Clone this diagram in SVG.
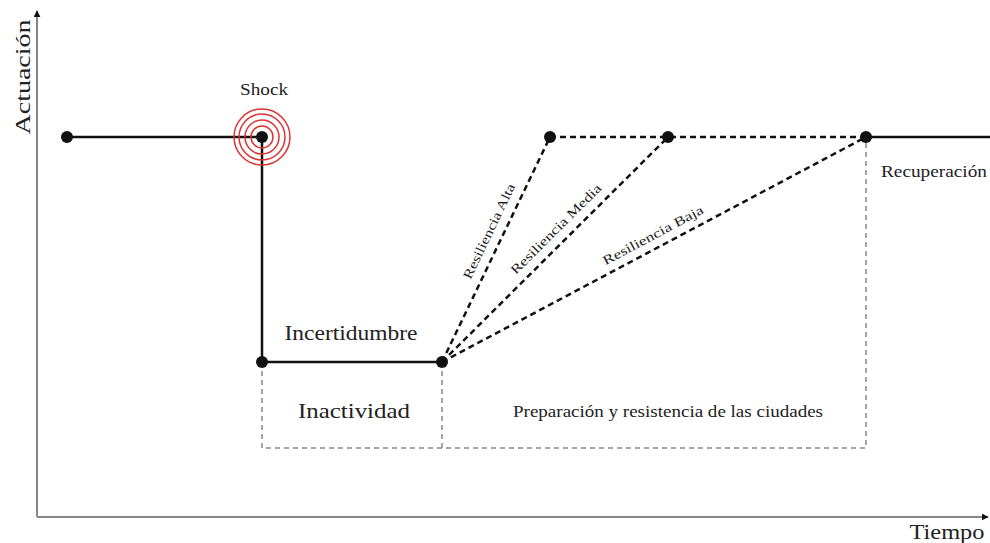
<svg xmlns="http://www.w3.org/2000/svg" width="990" height="543" viewBox="0 0 990 543">
<defs>
<style>
.t{font-family:"Liberation Serif","Times New Roman",serif;fill:#222}
.solid{stroke:#111;stroke-width:2.5;fill:none}
.dash{stroke:#111;stroke-width:2.5;stroke-dasharray:6,4;fill:none}
.gdash{stroke:#888;stroke-width:1.5;stroke-dasharray:5,4;fill:none}
.axis{stroke:#888;stroke-width:2;fill:none}
.dot{fill:#111}
.ring{stroke:#d33;stroke-width:1.5;fill:none}
</style>
<marker id="arr" viewBox="0 0 10 10" refX="9" refY="5" markerWidth="7" markerHeight="7" orient="auto" markerUnits="userSpaceOnUse">
<path d="M0,0 L10,5 L0,10 z" fill="#111"/>
</marker>
</defs>
<rect width="990" height="543" fill="#fff"/>
<g id="axes">
<line class="axis" x1="37" y1="517" x2="37" y2="11" marker-end="url(#arr)"/>
<line class="axis" x1="37" y1="517" x2="988" y2="517" marker-end="url(#arr)"/>
<text class="t" font-size="21" transform="translate(30,77) rotate(-90)" text-anchor="middle" textLength="115" lengthAdjust="spacingAndGlyphs">Actuación</text>
<text class="t" font-size="21" x="947" y="539" text-anchor="middle" textLength="75" lengthAdjust="spacingAndGlyphs">Tiempo</text>
</g>
<g id="connectors">
<polyline class="solid" points="67,137 262,137 262,362 442,362"/>
<line class="solid" x1="866" y1="137" x2="990" y2="137"/>
<line class="dash" x1="442" y1="362" x2="550" y2="137"/>
<line class="dash" x1="442" y1="362" x2="668" y2="137"/>
<line class="dash" x1="442" y1="362" x2="866" y2="137"/>
<line class="dash" x1="550" y1="137" x2="866" y2="137"/>
<polyline class="gdash" points="262,362 262,448 866,448 866,137"/>
<line class="gdash" x1="442" y1="362" x2="442" y2="448"/>
</g>
<g id="shock">
<circle class="ring" cx="262" cy="137" r="11"/>
<circle class="ring" cx="262" cy="137" r="17"/>
<circle class="ring" cx="262" cy="137" r="23"/>
<circle class="ring" cx="262" cy="137" r="28"/>
<text class="t" font-size="16" x="264" y="95" text-anchor="middle" textLength="48" lengthAdjust="spacingAndGlyphs">Shock</text>
</g>
<g id="nodes">
<circle class="dot" cx="67" cy="137" r="6"/>
<circle class="dot" cx="262" cy="137" r="6"/>
<circle class="dot" cx="262" cy="362" r="6"/>
<circle class="dot" cx="442" cy="362" r="6"/>
<circle class="dot" cx="550" cy="137" r="6"/>
<circle class="dot" cx="668" cy="137" r="6"/>
<circle class="dot" cx="866" cy="137" r="6"/>
</g>
<g id="labels">
<text class="t" font-size="22" x="351" y="340" text-anchor="middle" textLength="133" lengthAdjust="spacingAndGlyphs">Incertidumbre</text>
<text class="t" font-size="22" x="354" y="418" text-anchor="middle" textLength="112" lengthAdjust="spacingAndGlyphs">Inactividad</text>
<text class="t" font-size="16" x="668" y="417" text-anchor="middle" textLength="310" lengthAdjust="spacingAndGlyphs">Preparación y resistencia de las ciudades</text>
<text class="t" font-size="16" x="881" y="177" textLength="106" lengthAdjust="spacingAndGlyphs">Recuperación</text>
<text class="t" font-size="13" transform="translate(493,233) rotate(-64.4)" text-anchor="middle" textLength="104" lengthAdjust="spacingAndGlyphs">Resiliencia Alta</text>
<text class="t" font-size="13" transform="translate(559,232) rotate(-44.9)" text-anchor="middle" textLength="122" lengthAdjust="spacingAndGlyphs">Resiliencia Media</text>
<text class="t" font-size="13" transform="translate(655,239) rotate(-28)" text-anchor="middle" textLength="112" lengthAdjust="spacingAndGlyphs">Resiliencia Baja</text>
</g>
</svg>
